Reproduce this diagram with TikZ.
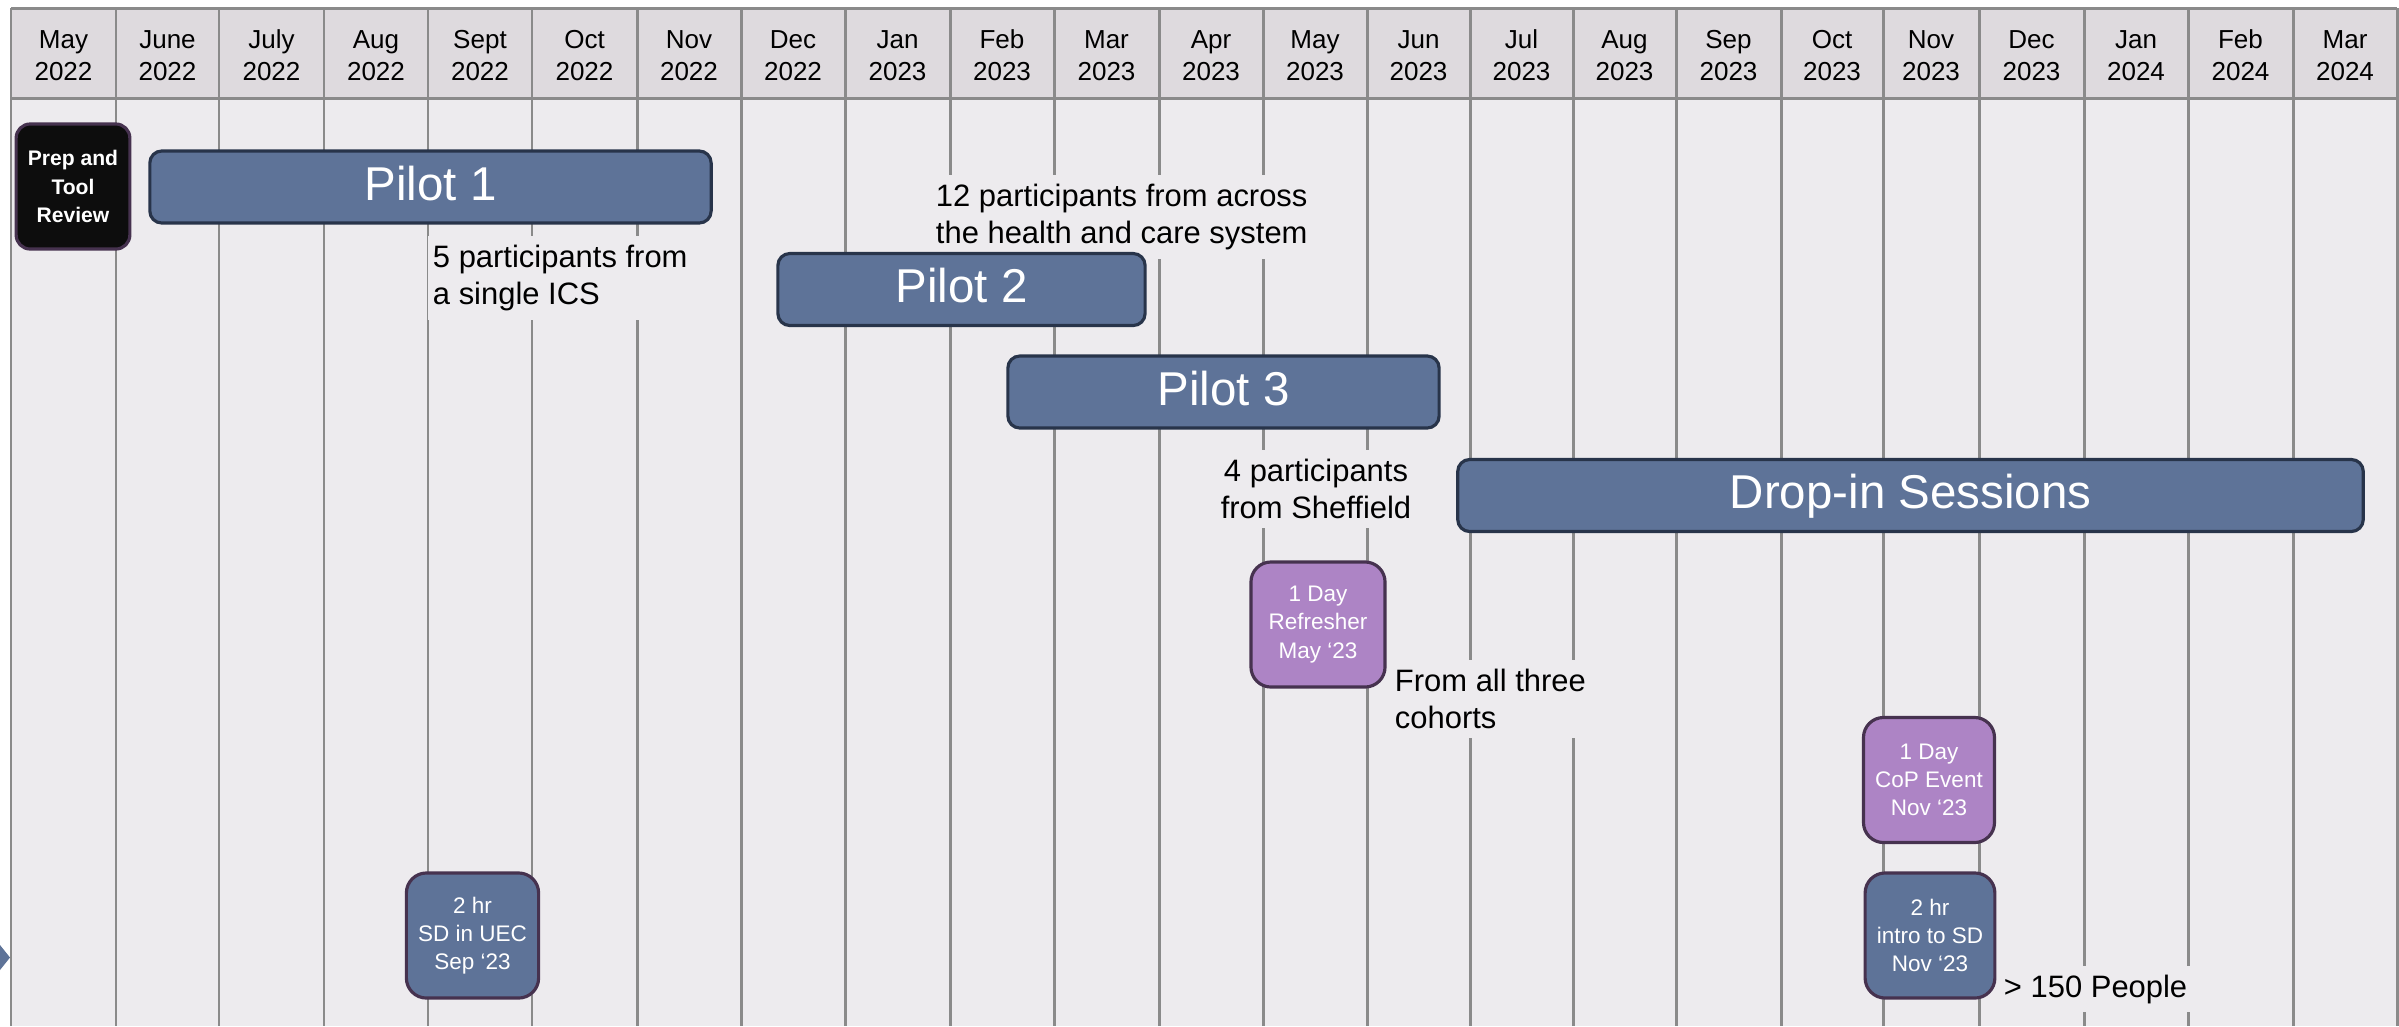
\documentclass[tikz,border=0pt]{standalone}
\usepackage{fontspec}
\setmainfont{Liberation Sans}
\definecolor{headcol}{HTML}{DEDADE}
\definecolor{bodycol}{HTML}{EDEBEE}
\definecolor{gridcol}{HTML}{8A8A8A}
\definecolor{barcol}{HTML}{5E7398}
\definecolor{bardraw}{HTML}{28344A}
\definecolor{lilac}{HTML}{AD84C5}
\definecolor{boxdraw}{HTML}{46324F}
\definecolor{prepcol}{HTML}{0D0D0D}

\begin{document}
\begin{tikzpicture}[x=0.01cm, y=-0.01cm,
    gridline/.style={gridcol, line width=0.85pt},
    month/.style={align=center, inner sep=0pt, font=\fontsize{7.4}{9.1}\selectfont},
    bar/.style={rectangle, rounded corners=3.4pt, draw=bardraw, line width=0.9pt,
      fill=barcol, text=white, minimum height=0.72cm, text height=1.4ex, text depth=0pt,
      font=\fontsize{13.5}{16}\selectfont},
    event/.style={rectangle, rounded corners=5.7pt, draw=boxdraw, line width=0.9pt,
      text=white, align=center, minimum height=1.25cm, font=\fontsize{6.4}{8}\selectfont},
    note/.style={fill=bodycol, inner xsep=1.5pt, inner ysep=2.5pt,
      font=\fontsize{8.8}{10.5}\selectfont}]

      \useasboundingbox (0,0) rectangle (2399,1026);
      \fill[white] (0,0) rectangle (2399,1026);
      \fill[headcol] (11,8) rectangle (2397,98);
      \fill[bodycol] (11,98) rectangle (2397,1026);
      \foreach \x in {11,116,219,324,428,532,637,741,845,950,1054,1159,1263,1367,
                      1470,1573,1676,1781,1883,1979,2084,2188,2293,2397}
        \draw[gridline] (\x,8) -- (\x,1026);
      \draw[gridline] (11,8) -- (2397,8);
      \draw[gridline] (11,98) -- (2397,98);
      \fill[barcol] (0,945) -- (10,957.5) -- (0,970) -- cycle;

      \foreach \xa/\xb/\mon/\yr [count=\i] in {11/116/May/2022, 116/219/June/2022,
          219/324/July/2022, 324/428/Aug/2022, 428/532/Sept/2022, 532/637/Oct/2022,
          637/741/Nov/2022, 741/845/Dec/2022, 845/950/Jan/2023, 950/1054/Feb/2023,
          1054/1159/Mar/2023, 1159/1263/Apr/2023, 1263/1367/May/2023, 1367/1470/Jun/2023,
          1470/1573/Jul/2023, 1573/1676/Aug/2023, 1676/1781/Sep/2023, 1781/1883/Oct/2023,
          1883/1979/Nov/2023, 1979/2084/Dec/2023, 2084/2188/Jan/2024, 2188/2293/Feb/2024,
          2293/2397/Mar/2024}
        \node[month] (m\i) at ({(\xa+\xb)/2},55.5) {\mon\\\yr};

      \begin{scope}[every node/.style={note}]
        \node[align=left, anchor=west] (cohort1) at (427,278) {5 participants from\\a single ICS};
        \node[align=left, anchor=west] (cohort2) at (930,217) {12 participants from across\\the health and care system};
        \node[align=center] (cohort3) at (1316,489) {4 participants\\from Sheffield};
        \node[align=left, anchor=west] (allthree) at (1389,699) {From all three\\cohorts};
        \node[anchor=west] (people) at (1998,989) {> 150 People};
      \end{scope}

      \begin{scope}[every node/.style={bar}]
        \node[minimum width=5.61cm] (pilot1) at (430.5,187) {Pilot 1};
        \node[minimum width=3.67cm] (pilot2) at (961.5,289.5) {Pilot 2};
        \node[minimum width=4.31cm] (pilot3) at (1223.5,392) {Pilot 3};
        \node[minimum width=9.05cm] (dropin) at (1910.5,495.5) {Drop-in Sessions};
      \end{scope}

      \begin{scope}[every node/.style={event}]
        \node[fill=prepcol, minimum width=1.10cm, rounded corners=4pt,
          font=\bfseries\fontsize{6}{8}\selectfont] (prep) at (73,186.5) {Prep and\\Tool\\Review};
        \node[fill=lilac, minimum width=1.34cm] (refresher) at (1318,624.5) {1 Day\\Refresher\\May ‘23};
        \node[fill=lilac, minimum width=1.26cm] (cop) at (1929,780) {1 Day\\CoP Event\\Nov ‘23};
        \node[fill=barcol, minimum width=1.26cm] (intro) at (1930,935.5) {2 hr\\intro to SD\\Nov ‘23};
        \node[fill=barcol, minimum width=1.29cm] (uec) at (472.5,935.5) {2 hr\\SD in UEC\\Sep ‘23};
      \end{scope}

    \end{tikzpicture}
\end{document}
